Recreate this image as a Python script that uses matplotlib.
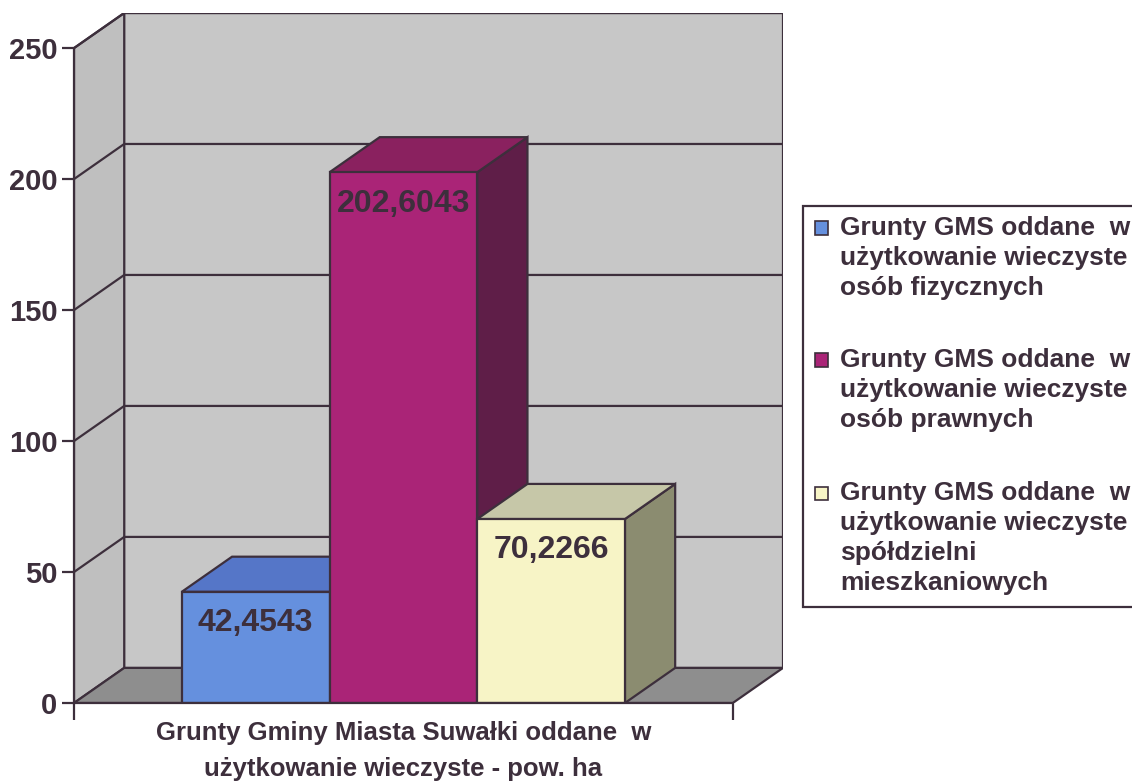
import matplotlib
matplotlib.use('Agg')
import matplotlib.pyplot as plt
from matplotlib.patches import Polygon, Rectangle
import matplotlib.transforms as mtransforms

# ---- data ----
legend_labels = [
    'Grunty GMS oddane  w\nużytkowanie wieczyste\nosób fizycznych',
    'Grunty GMS oddane  w\nużytkowanie wieczyste\nosób prawnych',
    'Grunty GMS oddane  w\nużytkowanie wieczyste\nspółdzielni\nmieszkaniowych',
]
values = [42.4543, 202.6043, 70.2266]
value_labels = ['42,4543', '202,6043', '70,2266']
y_ticks = [0, 50, 100, 150, 200, 250]
x_label = 'Grunty Gminy Miasta Suwałki oddane  w\nużytkowanie wieczyste - pow. ha'

# ---- style ----
front_colors = ['#6590de', '#aa2477', '#f7f4c6']
top_colors = ['#5576c8', '#8a215f', '#c6c7a8']
side_colors = ['#3d5597', '#5f1e48', '#8b8c70']
ink = '#3d2f3c'
back_wall = '#c7c7c7'
left_wall = '#bfbfbf'
floor_col = '#8e8e8e'

W, H = 1132, 781
plt.rcParams['font.family'] = ['Liberation Sans', 'DejaVu Sans']
plt.rcParams['font.weight'] = 'bold'

fig = plt.figure(figsize=(W / 100, H / 100), dpi=100)
fig.patch.set_facecolor('white')

gap = 0.73
dx = 0.34
dy = 13.4
ymax = y_ticks[-1]
x = list(range(len(values)))
xl = x[0] - 0.5 - gap
xr = x[-1] + 0.5 + gap

ax = fig.add_axes([74 / W, 1 - 703 / H, 709 / W, 690 / H])
ax.set_facecolor('none')
ax.set_xlim(xl, xr + dx)
ax.set_ylim(0, ymax + dy)

for s in ['top', 'right']:
    ax.spines[s].set_visible(False)
ax.spines['left'].set_bounds(0, ymax)
ax.spines['bottom'].set_bounds(xl, xr)
for s in ['left', 'bottom']:
    ax.spines[s].set_color(ink)
    ax.spines[s].set_linewidth(1.6)
    ax.spines[s].set_zorder(30)

ax.set_yticks(y_ticks)
ax.tick_params(axis='y', direction='out', length=9, width=1.6, color=ink,
               labelsize=21, labelcolor=ink, pad=3)
ax.set_xticks([xl, xr])
ax.set_xticklabels([])
ax.tick_params(axis='x', direction='out', length=12, width=1.6, color=ink)

# walls and floor
ax.add_patch(Rectangle((xl + dx, dy), xr - xl, ymax, fc=back_wall, ec=ink, lw=1.6, zorder=0.5))
ax.add_patch(Polygon([(xl, 0), (xl + dx, dy), (xl + dx, ymax + dy), (xl, ymax)],
                     closed=True, fc=left_wall, ec=ink, lw=1.6, zorder=0.6))
ax.add_patch(Polygon([(xl, 0), (xr, 0), (xr + dx, dy), (xl + dx, dy)],
                     closed=True, fc=floor_col, ec=ink, lw=1.6, zorder=0.7))
for v in y_ticks[1:]:
    ax.plot([xl, xl + dx, xr + dx], [v, v + dy, v + dy], color=ink, lw=1.6, zorder=0.8)

# bars
bars = ax.bar(x, values, width=1.0, color=front_colors, edgecolor=ink, linewidth=1.6)
for i, (xi, v) in enumerate(zip(x, values)):
    base = 3 + 3 * i
    ax.add_patch(Polygon([(xi + 0.5, 0), (xi + 0.5 + dx, dy), (xi + 0.5 + dx, v + dy), (xi + 0.5, v)],
                         closed=True, fc=side_colors[i], ec=ink, lw=1.6, zorder=base))
    ax.add_patch(Polygon([(xi - 0.5, v), (xi + 0.5, v), (xi + 0.5 + dx, v + dy), (xi - 0.5 + dx, v + dy)],
                         closed=True, fc=top_colors[i], ec=ink, lw=1.6, zorder=base + 1))
    bars[i].set_zorder(base + 2)
    ax.text(xi, v - 12, value_labels[i], ha='center', va='center', fontsize=23,
            color=ink, zorder=25)

# x label
trans = mtransforms.blended_transform_factory(ax.transData, ax.transAxes)
ax.text((xl + xr) / 2, -0.026, x_label, transform=trans, ha='center', va='top',
        multialignment='center', fontsize=18.5, color=ink, linespacing=1.65)

# legend (drawn manually)
def fx(px):
    return px / W

def fy(py):
    return 1 - py / H

fig.patches.append(Rectangle((fx(803), fy(607)), (1160 - 803) / W, (607 - 206) / H,
                             transform=fig.transFigure, fc='white', ec=ink, lw=1.6))
first_line_y = [228, 360, 493]
line_step = 30
for i, lab in enumerate(legend_labels):
    y0 = first_line_y[i]
    fig.patches.append(Rectangle((fx(815), fy(y0 + 6.5)), 13 / W, 13 / H,
                                 transform=fig.transFigure, fc=front_colors[i], ec=ink, lw=1.2))
    for k, line in enumerate(lab.split('\n')):
        fig.text(fx(840), fy(y0 + k * line_step), line, ha='left', va='center',
                 fontsize=19, color=ink)

fig.savefig('out.png', dpi=100)
